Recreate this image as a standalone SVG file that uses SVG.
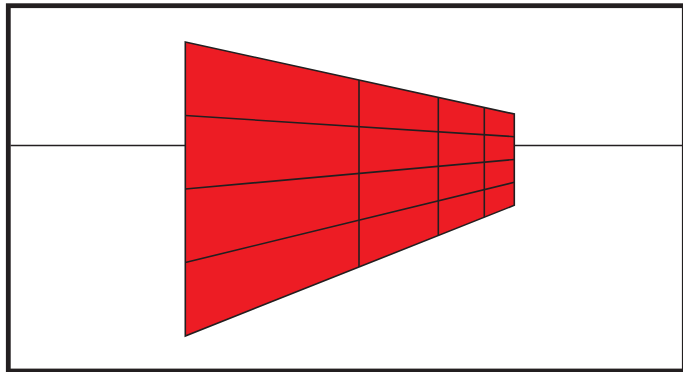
<svg xmlns="http://www.w3.org/2000/svg" width="683" height="372" viewBox="0 0 683 372">
<style>
.ln{stroke:#231F20;stroke-width:1.6;fill:none;stroke-linecap:butt}
.wall{fill:#ED1C24;stroke:#231F20;stroke-width:1.6;stroke-linejoin:miter}
</style>
<rect x="0" y="0" width="683" height="372" fill="#ffffff"/>
<rect x="8.3" y="5.7" width="676" height="365.3" fill="none" stroke="#231F20" stroke-width="4.8"/>
<g id="horizon">
<line class="ln" x1="10.5" y1="145.5" x2="185" y2="145.5"/>
<line class="ln" x1="514.5" y1="145.5" x2="682" y2="145.5"/>
</g>
<g id="wall">
<polygon class="wall" points="185.3,42 514.3,114 514.3,205.3 185.3,336"/>
<line class="ln" x1="185.3" y1="115.5" x2="514.3" y2="136.7"/>
<line class="ln" x1="185.3" y1="189" x2="514.3" y2="159.5"/>
<line class="ln" x1="185.3" y1="262.5" x2="514.3" y2="182.3"/>
<line class="ln" x1="359" y1="80.1" x2="359" y2="266.9"/>
<line class="ln" x1="438.3" y1="97.4" x2="438.3" y2="235.4"/>
<line class="ln" x1="484.3" y1="107.5" x2="484.3" y2="217.1"/>
</g>
</svg>
